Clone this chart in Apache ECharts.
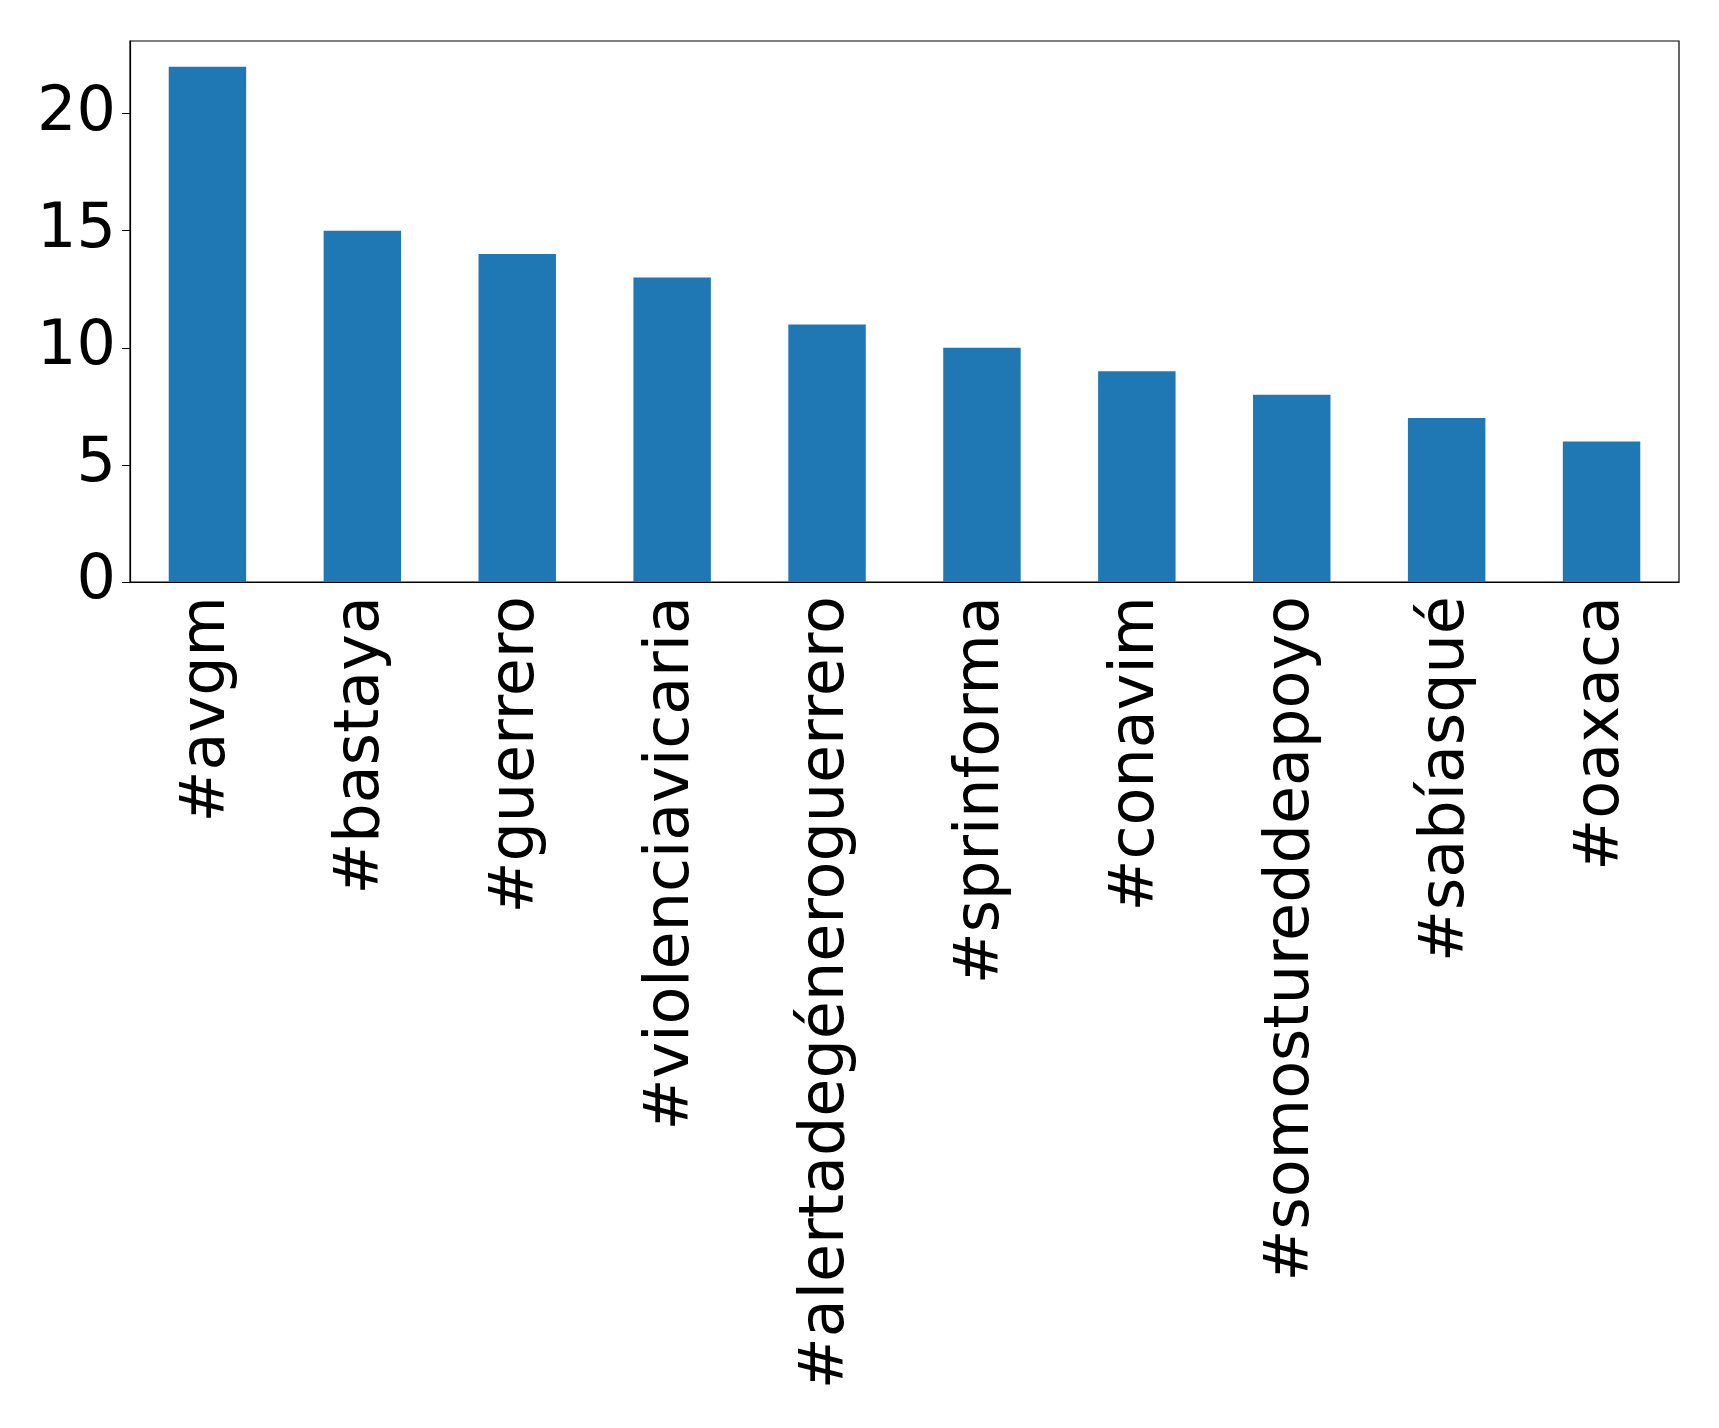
<!DOCTYPE html>
<html><head><meta charset="utf-8">
<script src="https://cdn.jsdelivr.net/npm/echarts@6/dist/echarts.min.js"></script>
<style>html,body{margin:0;padding:0;background:#fff}#c{width:1719px;height:1428px}</style>
</head><body><div id="c"></div>
<script>
const categories = ['#avgm','#bastaya','#guerrero','#violenciavicaria','#alertadegéneroguerrero','#sprinforma','#conavim','#somostureddeapoyo','#sabíasqué','#oaxaca'];
const values = [22,15,14,13,11,10,9,8,7,6];
const yTicks = [0,5,10,15,20];
const chart = echarts.init(document.getElementById('c'));
chart.setOption({
  animation:false,
  grid:{left:130,right:40,top:41,bottom:846,containLabel:false},
  xAxis:{type:'category',data:categories,
    axisLine:{lineStyle:{color:'#000',width:1.2}},
    axisTick:{alignWithLabel:true,length:8,lineStyle:{color:'#000'}},
    axisLabel:{rotate:90,fontSize:62,color:'#000',fontFamily:'DejaVu Sans',margin:14,interval:0}},
  yAxis:{type:'value',min:0,max:23.1,interval:5,
    axisLine:{show:true,lineStyle:{color:'#000',width:1.2}},
    axisTick:{show:true,length:8,lineStyle:{color:'#000'},customValues:yTicks},
    splitLine:{show:false},
    axisLabel:{fontSize:62,color:'#000',fontFamily:'DejaVu Sans',margin:14,customValues:yTicks}},
  series:[{type:'bar',data:values,barWidth:'50%',itemStyle:{color:'#1f77b4'}}],
  graphic:[{type:'rect',shape:{x:130,y:41,width:1549,height:541},style:{fill:'none',stroke:'#000',lineWidth:1.2},silent:true}]
});
</script></body></html>
